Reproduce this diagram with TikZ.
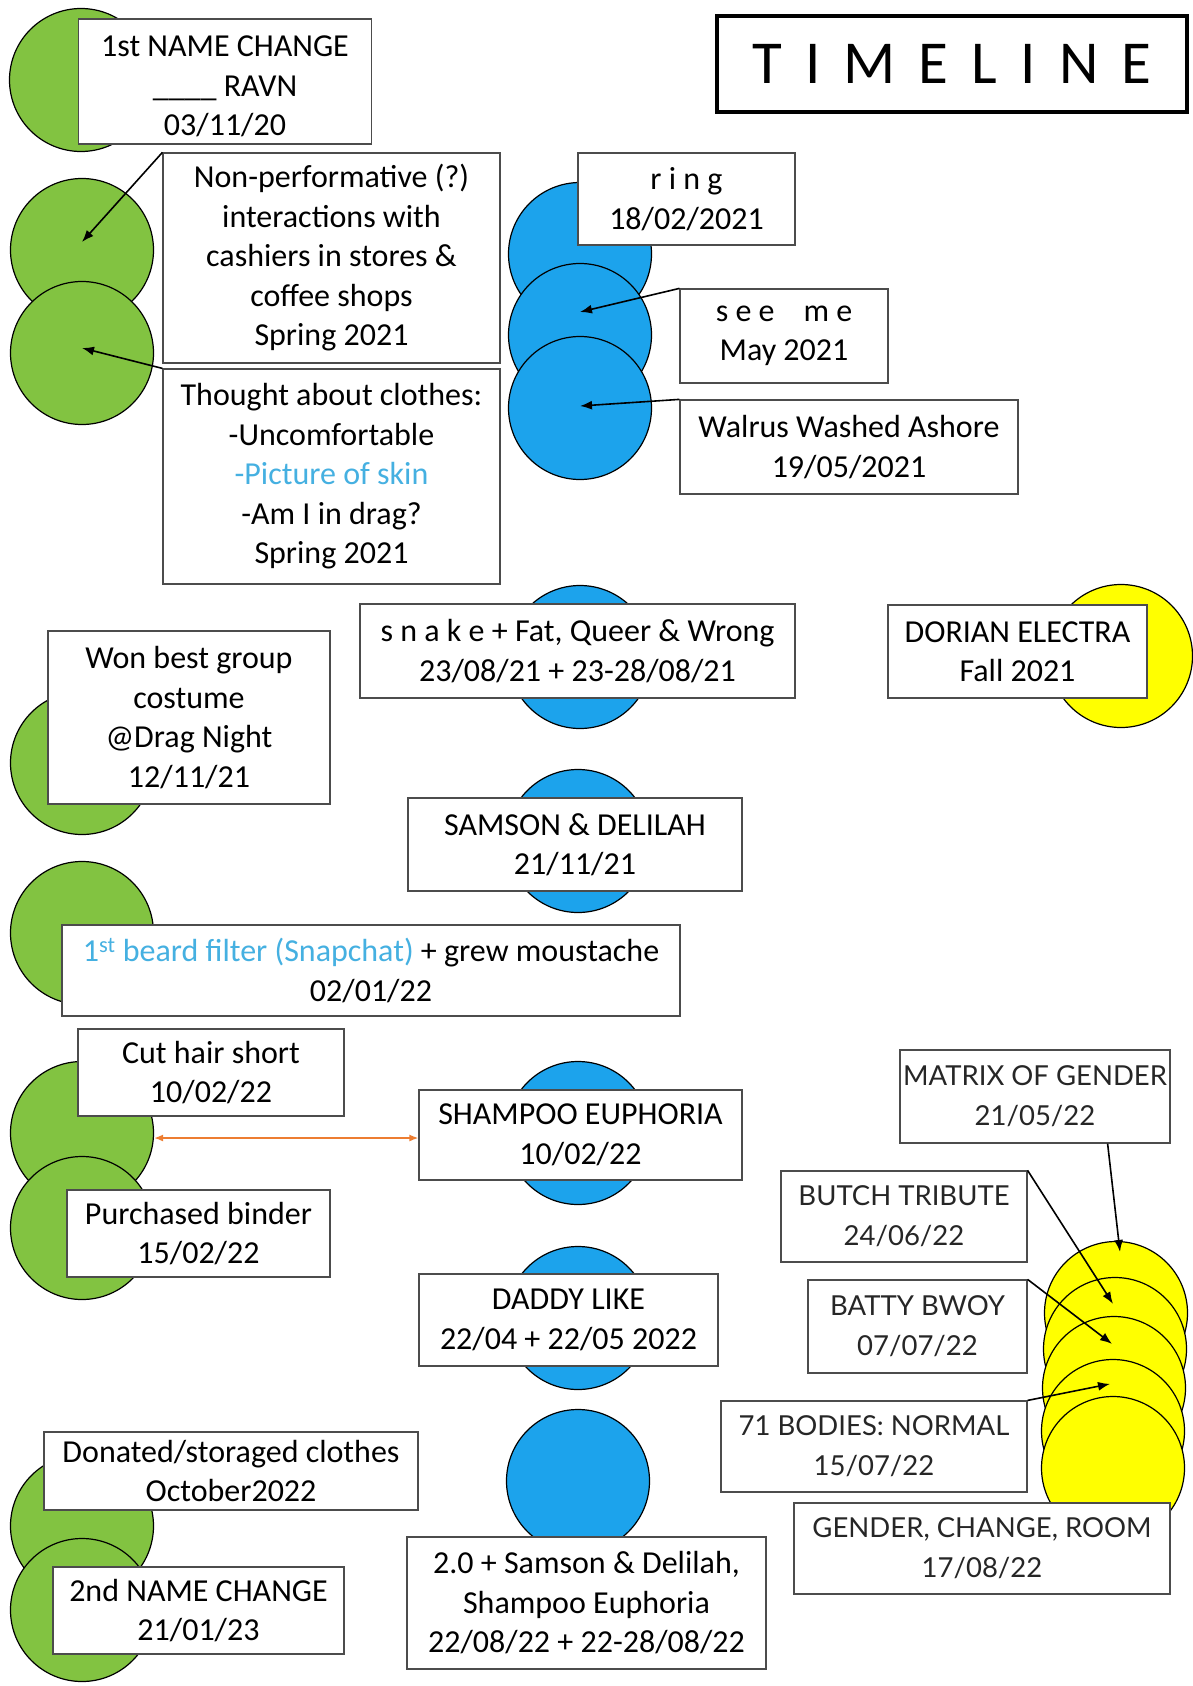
\documentclass[tikz,border=0pt]{standalone}
\usepackage{fontspec}
\setmainfont{Carlito}
\newfontfamily\capsfont{Lato}
\newfontfamily\titlefont[LetterSpace=38]{Carlito}
\usepackage{tikz}
\usetikzlibrary{positioning, arrows.meta, calc}

\definecolor{dotgreen}{HTML}{82C341}
\definecolor{dotblue}{HTML}{1CA3EC}
\definecolor{dotyellow}{HTML}{FFFF00}
\definecolor{skyblue}{HTML}{45B0E1}
\definecolor{linkorange}{HTML}{ED7D31}

\begin{document}
\begin{tikzpicture}[x=1pt, y=-1pt]
	% Define styles
	\tikzset{
		dot/.style={circle, draw=black, line width=1.2pt, minimum size=143pt, inner sep=0pt},
		gdot/.style={dot, fill=dotgreen},
		bdot/.style={dot, fill=dotblue},
		ydot/.style={dot, fill=dotyellow},
		event/.style={rectangle, draw=black!70, line width=1.2pt, fill=white, align=center, inner sep=0pt, font=\fontsize{32}{39.5}\selectfont},
		capsbox/.style={event, text=black!85, font=\capsfont\fontsize{27.5}{40}\selectfont},
		box/.style 2 args={minimum width=#1pt, minimum height=#2pt},
		line/.style={draw, line width=1.6pt, -{Latex[length=12pt, width=9pt]}},
		link/.style={draw=linkorange, line width=1.5pt, {Latex[length=9pt, width=7pt]}-{Latex[length=9pt, width=7pt]}}
	}
	
	\useasboundingbox (0,0) rectangle (1192,1686);
	
	% Circles
	\node[gdot] (gA) at (81,80) {};
	\node[gdot] (gB) at (82,250) {};
	\node[gdot] (gC) at (82,353) {};
	\node[gdot] (gD) at (82,763) {};
	\node[gdot] (gE) at (82,933) {};
	\node[gdot] (gF) at (82,1133) {};
	\node[gdot] (gG) at (82,1228) {};
	\node[gdot] (gH) at (82,1526) {};
	\node[gdot] (gI) at (82,1610) {};
	
	\node[bdot] (bA) at (580,254) {};
	\node[bdot] (bB) at (580,335) {};
	\node[bdot] (bC) at (580,408) {};
	\node[bdot] (bD) at (580,657) {};
	\node[bdot] (bE) at (578,841) {};
	\node[bdot] (bF) at (578,1133) {};
	\node[bdot] (bG) at (578,1318) {};
	\node[bdot] (bH) at (578,1481) {};
	
	\node[ydot] (yA) at (1121,656) {};
	\node[ydot] (yB) at (1116,1313) {};
	\node[ydot] (yC) at (1115,1349) {};
	\node[ydot] (yD) at (1114,1388) {};
	\node[ydot] (yE) at (1113,1431) {};
	\node[ydot] (yF) at (1113,1468) {};
	
	% Title
	\node[draw=black, line width=4pt, box={470}{96}, font=\titlefont\fontsize{61}{66}\selectfont] (title) at (952,64) {TIMELINE};
	
	% Nodes
	\node[event, box={293}{125}] (first) at (225,81.5) {\rule{0pt}{31pt}1st NAME CHANGE\\\_\_\_\_ RAVN\\03/11/20};
	\node[event, box={337}{210}] (perform) at (331.5,258) {Non-performative (?)\\interactions with\\cashiers in stores \&\\coffee shops\\Spring 2021};
	\node[event, box={337}{215}] (clothes) at (331.5,476.5) {Thought about clothes:\\-Uncomfortable\\\textcolor{skyblue}{-Picture of skin}\\-Am I in drag?\\Spring 2021};
	\node[event, box={217}{92}] (ring) at (686.5,199) {r i n g\\18/02/2021};
	\node[event, box={208}{94}] (seeme) at (784,336) {s e e \ \ \ m e\\May 2021};
	\node[event, box={338}{94}] (walrus) at (849,447) {Walrus Washed Ashore\\19/05/2021};
	\node[event, box={435}{94}] (snake) at (577.5,651) {s n a k e + Fat, Queer \& Wrong\\23/08/21 + 23-28/08/21};
	\node[event, box={259}{93}] (dorian) at (1017.5,651.5) {DORIAN ELECTRA\\Fall 2021};
	\node[event, box={282}{173}] (won) at (189,717.5) {Won best group\\costume\\@Drag Night\\12/11/21};
	\node[event, box={334}{93}] (samson) at (575,844.5) {SAMSON \& DELILAH\\21/11/21};
	\node[event, box={618}{91}] (beard) at (371,970.5) {\textcolor{skyblue}{1\textsuperscript{st} beard filter (Snapchat)} + grew moustache\\02/01/22};
	\node[event, box={266}{87}] (cuthair) at (211,1072.5) {Cut hair short\\10/02/22};
	\node[event, box={323}{90}] (shampoo) at (580.5,1135) {SHAMPOO EUPHORIA\\10/02/22};
	\node[event, box={263}{87}] (binder) at (198.5,1233.5) {Purchased binder\\15/02/22};
	\node[event, box={299}{92}] (daddy) at (568.5,1320) {DADDY LIKE\\22/04 + 22/05 2022};
	\node[event, box={374}{78}] (donated) at (231,1471) {Donated/storaged clothes\\October2022};
	\node[event, box={359}{132}] (revival) at (586.5,1603) {2.0 + Samson \& Delilah,\\Shampoo Euphoria\\22/08/22 + 22-28/08/22};
	\node[event, box={291}{87}] (second) at (198.5,1610.5) {2nd NAME CHANGE\\21/01/23};
	
	\node[capsbox, box={270}{93}] (matrix) at (1035,1096.5) {MATRIX OF GENDER\\21/05/22};
	\node[capsbox, box={246}{91}] (butch) at (904,1216.5) {BUTCH TRIBUTE\\24/06/22};
	\node[capsbox, box={219}{93}] (batty) at (917.5,1326.5) {BATTY BWOY\\07/07/22};
	\node[capsbox, box={306}{91}] (bodies) at (874,1446.5) {71 BODIES: NORMAL\\15/07/22};
	\node[capsbox, box={376}{91}] (room) at (982,1548.5) {GENDER, CHANGE, ROOM\\17/08/22};
	
	% Arrows
	\draw[line] (perform.north west) -- ([yshift=8pt]gB.center);
	\draw[line] (clothes.north west) -- ([yshift=5pt]gC.center);
	\draw[line] (seeme.north west) -- ([yshift=23pt]bB.center);
	\draw[line] (walrus.north west) -- ([yshift=2pt]bC.center);
	
	\draw[line] ([xshift=-63pt]matrix.south east) -- ([shift={(4pt,-11pt)}]yB.north);
	\draw[line] (butch.north east) -- ([shift={(-2pt,-27pt)}]yC.north);
	\draw[line] (batty.north east) -- ([shift={(-2pt,-28pt)}]yD.north);
	\draw[line] (bodies.north east) -- ([shift={(-3pt,-25pt)}]yE.north);
	
	\coordinate (hairlink) at ([yshift=-5pt]gF.east);
	\draw[link] (hairlink) -- (shampoo.west |- hairlink);
	
\end{tikzpicture}
\end{document}
